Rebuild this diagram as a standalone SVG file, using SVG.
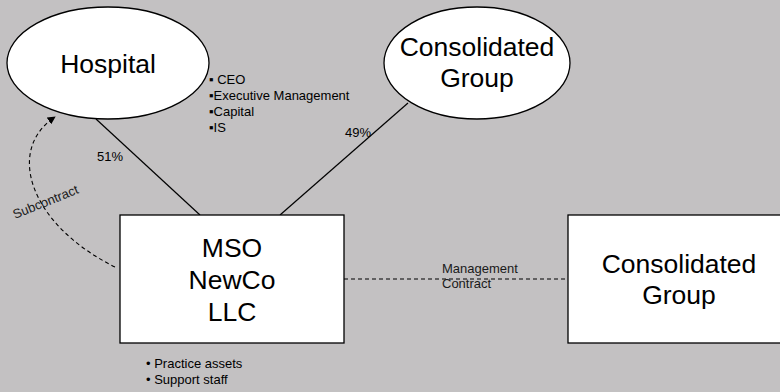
<svg xmlns="http://www.w3.org/2000/svg" width="780" height="392" viewBox="0 0 780 392">
  <style>
    .shape { fill: #ffffff; stroke: #000000; stroke-width: 1.3; }
    .link { fill: none; stroke: #000000; stroke-width: 1.2; }
    .dash { fill: none; stroke: #000000; stroke-width: 1.1; stroke-dasharray: 4 3; }
    text { font-family: "Liberation Sans", Arial, sans-serif; fill: #000000; }
    .big { font-size: 26.5px; text-anchor: middle; }
    .small { font-size: 13px; }
    .note { font-size: 13px; fill: #1a1a1a; }
  </style>
  <defs>
    <marker id="arrow" viewBox="0 0 10 10" refX="9" refY="5" markerWidth="8" markerHeight="8" markerUnits="userSpaceOnUse" orient="auto">
      <path d="M0,0 L10,5 L0,10 z" fill="#000000"/>
    </marker>
  </defs>

  <rect x="0" y="0" width="780" height="392" fill="#c3c1c2"/>

  <!-- connectors -->
  <g id="connectors">
    <line class="link" x1="96" y1="119" x2="200" y2="215"/>
    <line class="link" x1="408" y1="103" x2="280" y2="215"/>
    <line class="dash" x1="344" y1="279" x2="568" y2="279"/>
    <path class="dash" d="M115,267 C30,225 5,150 55,117" marker-end="url(#arrow)"/>
    <text class="small" x="97" y="161">51%</text>
    <text class="small" x="345" y="137">49%</text>
    <text class="note" x="442" y="273">Management</text>
    <text class="note" x="442" y="288">Contract</text>
    <text class="note" transform="translate(15,219) rotate(-22)">Subcontract</text>
  </g>

  <g id="hospital">
    <ellipse class="shape" cx="108" cy="63" rx="101" ry="56"/>
    <text class="big" x="108" y="73">Hospital</text>
  </g>

  <g id="hospital-notes">
    <text class="small" x="209" y="84">▪ CEO</text>
    <text class="small" x="209" y="100">▪Executive Management</text>
    <text class="small" x="209" y="116">▪Capital</text>
    <text class="small" x="209" y="132">▪IS</text>
  </g>

  <g id="consolidated-group-top">
    <ellipse class="shape" cx="477" cy="63" rx="93" ry="56"/>
    <text class="big" x="477" y="56">Consolidated</text>
    <text class="big" x="477" y="87">Group</text>
  </g>

  <g id="mso-newco">
    <rect class="shape" x="120" y="215" width="224" height="128"/>
    <text class="big" x="232" y="257">MSO</text>
    <text class="big" x="232" y="289">NewCo</text>
    <text class="big" x="232" y="321">LLC</text>
  </g>

  <g id="mso-notes">
    <text class="small" x="146" y="368">• Practice assets</text>
    <text class="small" x="146" y="384">• Support staff</text>
  </g>

  <g id="consolidated-group-right">
    <rect class="shape" x="568" y="215" width="240" height="128"/>
    <text class="big" x="679" y="273">Consolidated</text>
    <text class="big" x="679" y="304">Group</text>
  </g>
</svg>
